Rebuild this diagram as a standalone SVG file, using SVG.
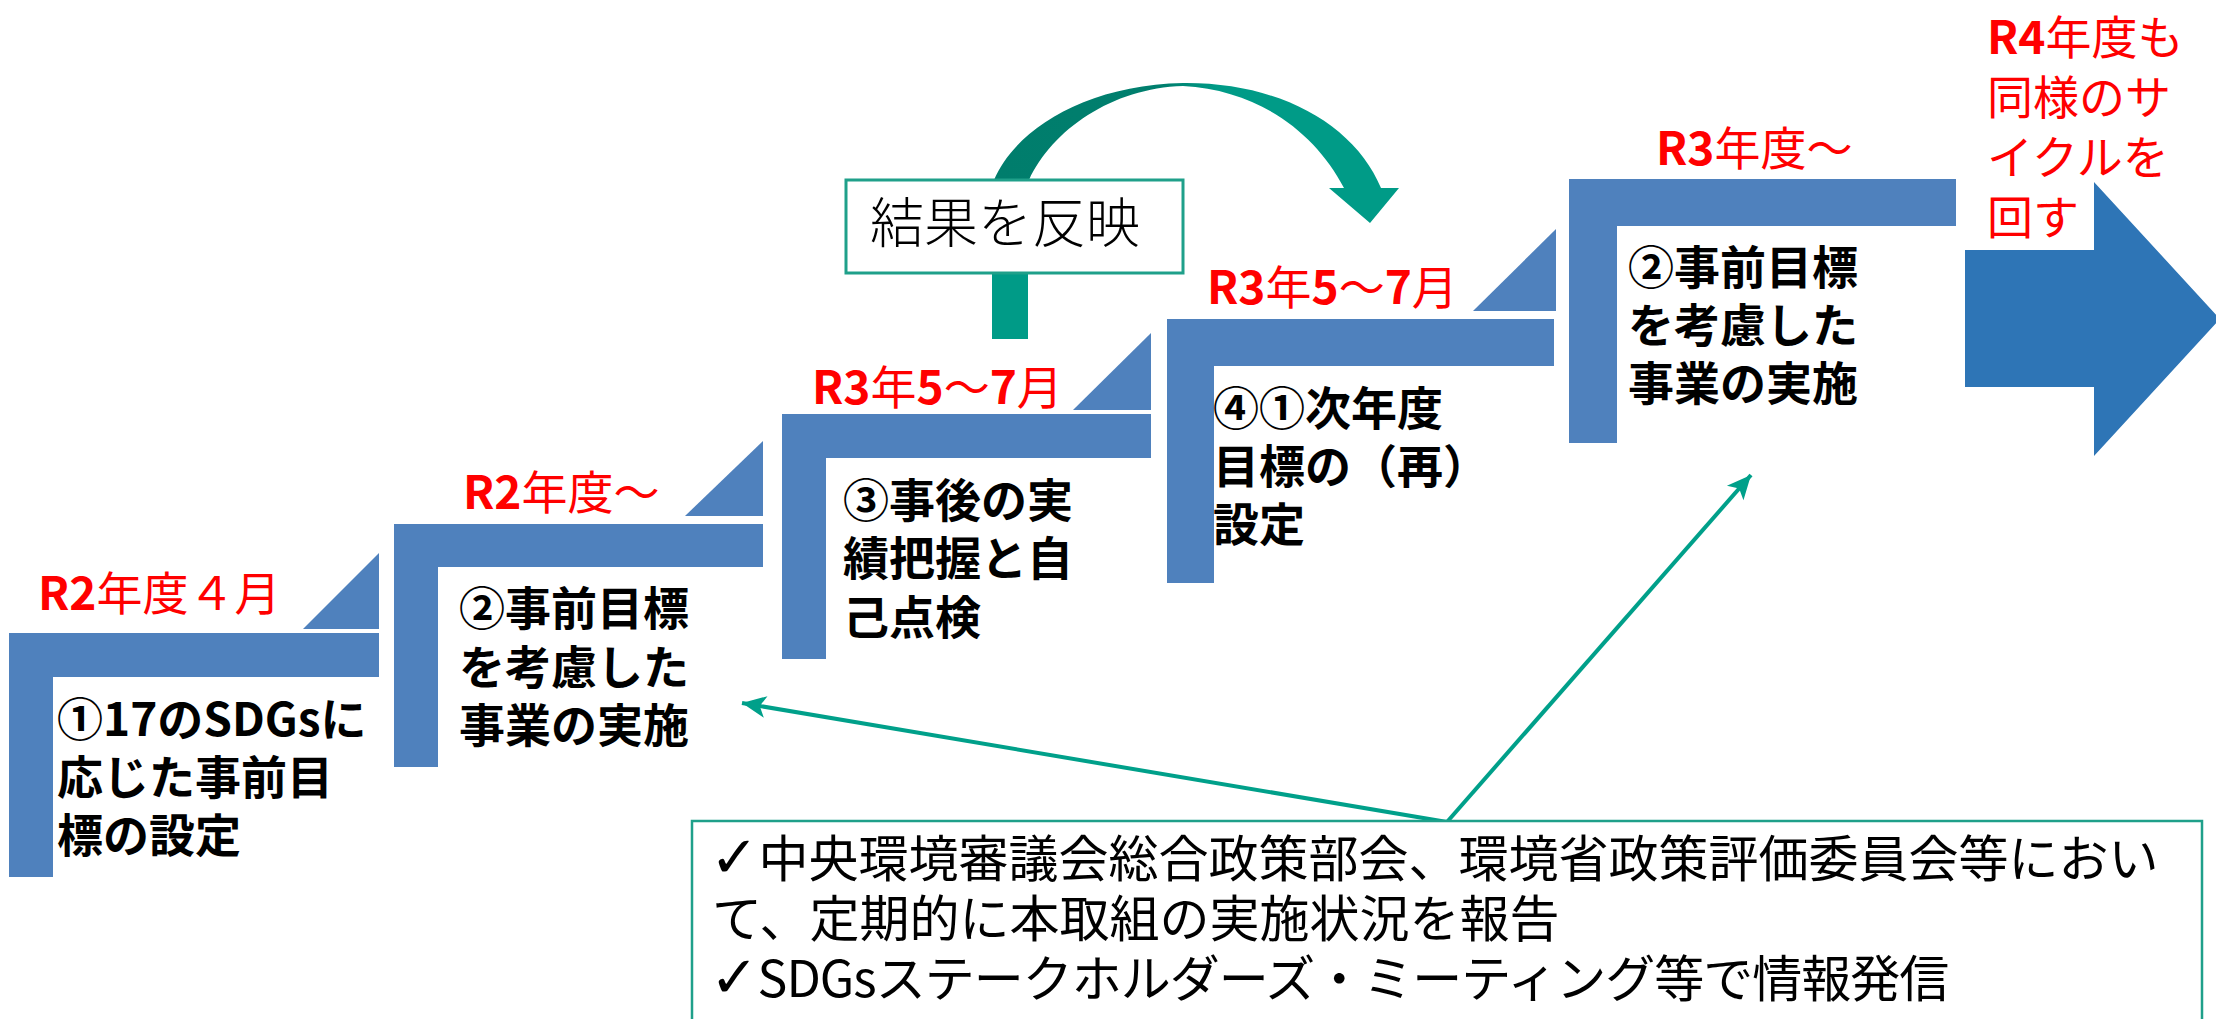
<svg xmlns="http://www.w3.org/2000/svg" width="2216" height="1019" viewBox="0 0 2216 1019">
<style>
.step{fill:#4F81BD}
.tri{fill:#4F81BD}
.big{fill:#2E75B6}
.lbl{font-family:"Noto Sans CJK JP","Noto Sans",sans-serif;font-size:46px;fill:#FF0000}
.lbl .b{font-weight:700}
.txt{font-family:"Noto Sans CJK JP","Noto Sans",sans-serif;font-size:46px;font-weight:700;fill:#000}
.note{font-family:"Noto Sans CJK JP","Noto Sans",sans-serif;font-size:50px;font-weight:400;fill:#000}
.note .ck{font-family:"DejaVu Sans",sans-serif;font-weight:700;font-size:58px}
.ref{font-family:"Noto Sans CJK JP","Noto Sans",sans-serif;font-size:54px;font-weight:300;fill:#000}
.con{stroke:#00A08A;stroke-width:4;fill:none}
</style>
<defs>
<marker id="stealth" markerUnits="userSpaceOnUse" markerWidth="30" markerHeight="30" viewBox="0 0 30 30" refX="26" refY="15" orient="auto">
<path d="M26,15 L2,4 L8,15 L2,26 Z" fill="#00A08A"/>
</marker>
<linearGradient id="curveGrad" gradientUnits="userSpaceOnUse" x1="994" y1="0" x2="1400" y2="0">
<stop offset="0" stop-color="#007D6C"/>
<stop offset="0.42" stop-color="#007F6E"/>
<stop offset="0.55" stop-color="#009B87"/>
<stop offset="1" stop-color="#009B87"/>
</linearGradient>
</defs>

<g id="step1">
<polygon class="step" points="9,633 379,633 379,677 53,677 53,877 9,877"/>
<polygon class="tri" points="379,553 379,629 303,629"/>
<text class="lbl" x="38" y="610"><tspan class="b">R2</tspan>年度４月</text>
<text class="txt"><tspan x="57" y="736">①17のSDGsに</tspan><tspan x="57" y="794">応じた事前目</tspan><tspan x="57" y="852">標の設定</tspan></text>
</g>

<g id="step2">
<polygon class="step" points="394,524 763,524 763,567 438,567 438,767 394,767"/>
<polygon class="tri" points="763,441 763,516 685,516"/>
<text class="lbl" x="463" y="509"><tspan class="b">R2</tspan>年度～</text>
<text class="txt"><tspan x="459" y="625">②事前目標</tspan><tspan x="459" y="684">を考慮した</tspan><tspan x="459" y="742">事業の実施</tspan></text>
</g>

<g id="step3">
<polygon class="step" points="782,414 1151,414 1151,458 826,458 826,659 782,659"/>
<polygon class="tri" points="1151,333 1151,410 1073,410"/>
<text class="lbl" x="812" y="404"><tspan class="b">R3</tspan>年<tspan class="b">5</tspan>～<tspan class="b">7</tspan>月</text>
<text class="txt"><tspan x="843" y="517">③事後の実</tspan><tspan x="843" y="575">績把握と自</tspan><tspan x="843" y="634">己点検</tspan></text>
</g>

<g id="step4">
<polygon class="step" points="1167,319 1554,319 1554,366 1214,366 1214,583 1167,583"/>
<polygon class="tri" points="1556,229 1556,311 1473,311"/>
<text class="lbl" x="1207" y="304"><tspan class="b">R3</tspan>年<tspan class="b">5</tspan>～<tspan class="b">7</tspan>月</text>
<text class="txt"><tspan x="1213" y="425">④①次年度</tspan><tspan x="1213" y="483">目標の（再）</tspan><tspan x="1213" y="541">設定</tspan></text>
</g>

<g id="step5">
<polygon class="step" points="1569,179 1956,179 1956,226 1617,226 1617,443 1569,443"/>
<text class="lbl" x="1656" y="165"><tspan class="b">R3</tspan>年度～</text>
<text class="txt"><tspan x="1628" y="284">②事前目標</tspan><tspan x="1628" y="342">を考慮した</tspan><tspan x="1628" y="400">事業の実施</tspan></text>
</g>

<g id="next-cycle">
<polygon class="big" points="1965,250 2094,250 2094,182 2220,319 2094,456 2094,387 1965,387"/>
<text class="lbl"><tspan x="1987" y="54"><tspan class="b">R4</tspan>年度も</tspan><tspan x="1987" y="114">同様のサ</tspan><tspan x="1987" y="174">イクルを</tspan><tspan x="1987" y="234">回す</tspan></text>
</g>

<g id="reflect">
<path fill="url(#curveGrad)" d="M994,180 C1015,130 1085,85 1183,83 C1280,82 1355,125 1381,188 L1399,188 L1370,223 L1329,188 L1344,188 C1315,132 1258,90 1183,86 C1112,88 1052,130 1029,180 Z"/>
<rect x="992" y="272" width="36" height="67" fill="#009B87"/>
<rect x="846" y="180" width="337" height="93" fill="#FFFFFF" stroke="#1FA08A" stroke-width="3"/>
<text class="ref" x="870" y="243">結果を反映</text>
</g>

<g id="connectors">
<line class="con" x1="1447" y1="822" x2="742" y2="703" marker-end="url(#stealth)"/>
<line class="con" x1="1447" y1="822" x2="1751" y2="475" stroke-width="3.5" marker-end="url(#stealth)"/>
</g>

<g id="note">
<rect x="692" y="821" width="1510" height="230" fill="#FFFFFF" stroke="#1FA08A" stroke-width="2.5"/>
<text class="note"><tspan x="710" y="877"><tspan class="ck">✓</tspan>中央環境審議会総合政策部会、環境省政策評価委員会等におい</tspan><tspan x="712" y="937">て、定期的に本取組の実施状況を報告</tspan><tspan x="710" y="997" letter-spacing="-1"><tspan class="ck">✓</tspan>SDGsステークホルダーズ・ミーティング等で情報発信</tspan></text>
</g>
</svg>
